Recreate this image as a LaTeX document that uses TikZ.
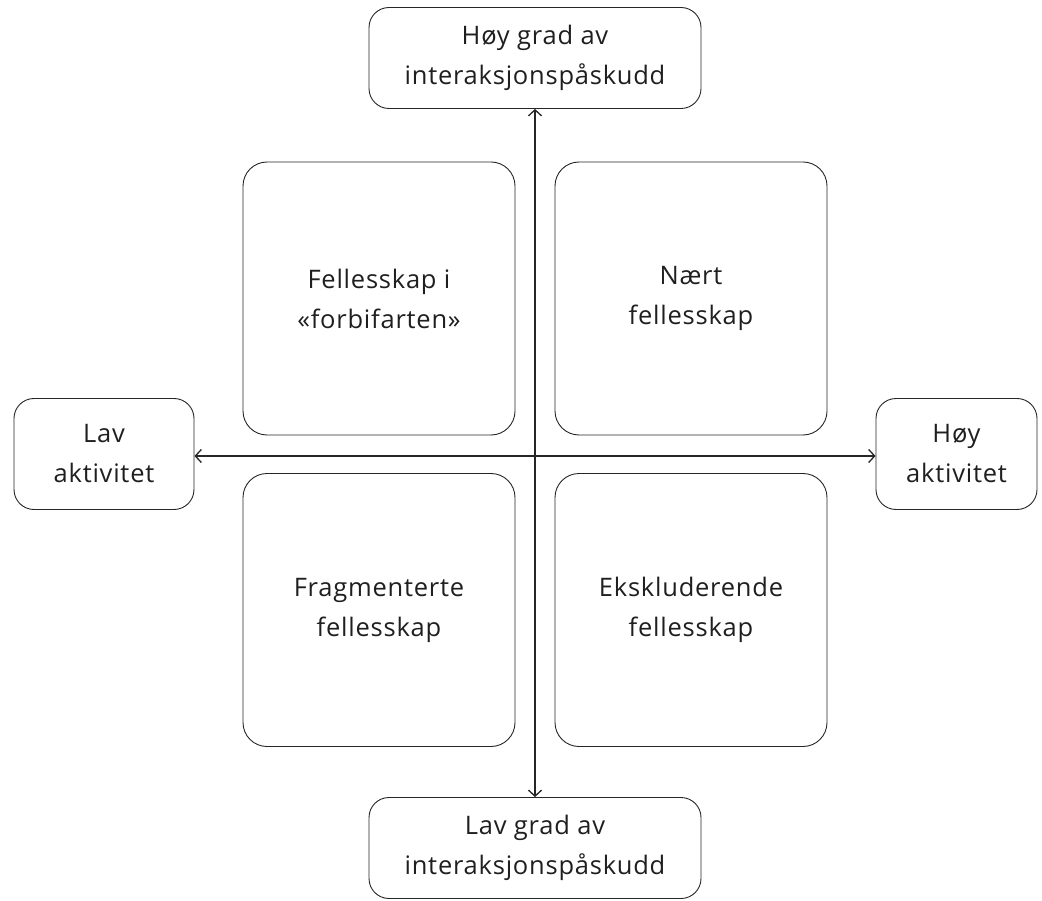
\documentclass[tikz,border=0pt]{standalone}
\usepackage{fontspec}
\setmainfont{Open Sans}[LetterSpace=3]
\usetikzlibrary{arrows.meta}
\begin{document}
\begin{tikzpicture}[x=1pt,y=-1pt,
  box/.style={draw=black!85,line width=0.9pt,rounded corners=20pt,align=center,inner sep=0pt,font=\fontsize{25.5}{40}\selectfont,text=black!88},
  quad/.style={box,rounded corners=24pt},
  axis/.style={draw=black!85,line width=1.3pt,{Straight Barb[length=6pt,width=13pt,line width=1.3pt]}-{Straight Barb[length=6pt,width=13pt,line width=1.3pt]}}]
\useasboundingbox (0,0) rectangle (1042,901);
\node[box,minimum width=332pt,minimum height=101pt] (top) at (535,58) {Høy grad av\\interaksjonspåskudd};
\node[box,minimum width=332pt,minimum height=101pt] (bot) at (535,848) {Lav grad av\\interaksjonspåskudd};
\node[box,minimum width=180pt,minimum height=111pt] (left) at (104,454) {Lav\\aktivitet};
\node[box,minimum width=161pt,minimum height=111pt] (right) at (956.5,454) {Høy\\aktivitet};
\node[quad,minimum width=272pt,minimum height=273pt] (tl) at (379,298.5) {Fellesskap i\\«forbifarten»};
\node[quad,minimum width=272pt,minimum height=273pt] (tr) at (691,298.5) {Nært\\fellesskap};
\node[quad,minimum width=272pt,minimum height=273pt] (bl) at (379,610) {Fragmenterte\\fellesskap};
\node[quad,minimum width=272pt,minimum height=273pt] (br) at (691,610) {Ekskluderende\\fellesskap};
\coordinate (c) at (535,456);
\draw[axis] (top.south) -- (bot.north);
\draw[axis] (left.east |- c) -- (right.west |- c);
\end{tikzpicture}
\end{document}
